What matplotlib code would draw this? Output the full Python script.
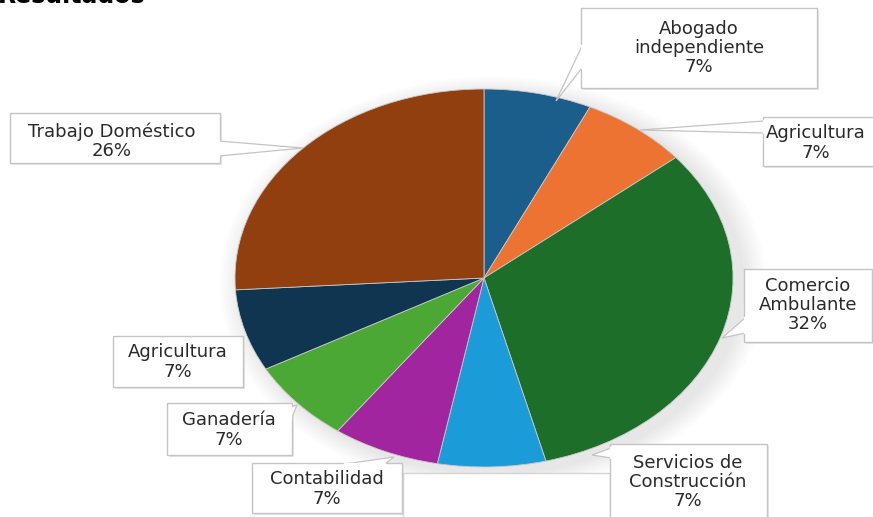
import matplotlib.pyplot as plt
from matplotlib.patches import Rectangle, Polygon, Ellipse
import numpy as np

# data
labels = ["Abogado\nindependiente", "Agricultura", "Comercio\nAmbulante",
          "Servicios de\nConstrucción", "Contabilidad", "Ganadería",
          "Agricultura", "Trabajo Doméstico"]
values = [7, 7, 32, 7, 7, 7, 7, 26]
colors = ["#1b5e8b", "#ec7332", "#1c6e29", "#1b9bd7",
          "#a1259f", "#4ca834", "#0f3551", "#923f0f"]

W, H = 873, 517
fig = plt.figure(figsize=(W / 100, H / 100), dpi=100)
fig.patch.set_facecolor("white")

# pie is stretched into an ellipse, so place its axes in pixels
cx, cy, rx, ry = 484, 278, 249, 189
ax = fig.add_axes([(cx - rx) / W, (H - cy - ry) / H, 2 * rx / W, 2 * ry / H])
ax.set_xlim(-1, 1)
ax.set_ylim(-1, 1)

# soft shadow, mostly lower right
for i in range(8):
    s = 1.0 + 0.012 * (i + 1)
    ax.add_patch(Ellipse((0.035, -0.03), 2 * s, 2 * s, facecolor="#808080",
                         alpha=0.02, edgecolor="none", zorder=0, clip_on=False))

ax.pie(values, colors=colors, startangle=90, counterclock=False, radius=1,
       wedgeprops=dict(edgecolor="#c8c8c8", linewidth=0.6))
ax.set_aspect("auto")
ax.set_xlim(-1, 1)
ax.set_ylim(-1, 1)
ax.axis("off")

# overlay in pixel coordinates for the callouts
ov = fig.add_axes([0, 0, 1, 1], zorder=5)
ov.set_xlim(0, W)
ov.set_ylim(H, 0)
ov.axis("off")
ov.patch.set_alpha(0)

# box (x0, y0, x1, y1), text centre, pointer (base points + tip) per slice
boxes = [(581, 8, 817, 88), (763, 117, 890, 166), (744, 269, 872, 342),
         (610, 444, 767, 535), (252, 463, 402, 513), (167, 403, 292, 455),
         (113, 336, 243, 387), (10, 113, 220, 163)]
text_xy = [(699, 48), (816, 143), (808, 305), (688, 482), (327, 489),
           (229, 430), (178, 362), (112, 141)]
pointers = [[(582, 46), (582, 68), (556, 101)],
            [(764, 121), (764, 133), (640, 130)],
            [(745, 318), (745, 333), (722, 338)],
            [(611, 448), (611, 458), (592, 455)],
            [(345, 464), (385, 464), (394, 457)],
            [(291, 407), (291, 420), (297, 405)],
            None,
            [(219, 141), (219, 156), (303, 148)]]

edge = "#c4c4c4"


def callout(box, txy, txt, ptr):
    x0, y0, x1, y1 = box
    ov.add_patch(Rectangle((x0 + 2, y0 + 2), x1 - x0, y1 - y0,
                           facecolor="#e6e6e6", edgecolor="none", zorder=1))
    ov.add_patch(Rectangle((x0, y0), x1 - x0, y1 - y0,
                           facecolor="white", edgecolor=edge, lw=1, zorder=2))
    if ptr is not None:
        ov.add_patch(Polygon(ptr, closed=True, facecolor="white",
                             edgecolor=edge, lw=0.9, zorder=2))
        ov.plot([ptr[0][0], ptr[1][0]], [ptr[0][1], ptr[1][1]],
                color="white", lw=1.6, zorder=3)
    ov.text(txy[0], txy[1], txt, ha="center", va="center",
            fontsize=13, color="#2a2a2a", linespacing=1.08, zorder=4)


for b, txy, lab, v, p in zip(boxes, text_xy, labels, values, pointers):
    callout(b, txy, f"{lab}\n{v}%", p)

# empty label box under the light blue slice
ov.add_patch(Rectangle((403, 473), 207, 70, facecolor="white",
                       edgecolor="#d4d4d4", lw=1, zorder=1))

fig.text(-0.002, 1 - 3 / H, "Resultados", fontsize=17, fontweight="bold",
         color="black", ha="left", va="baseline")

fig.savefig("out.png", dpi=100, facecolor="white")
